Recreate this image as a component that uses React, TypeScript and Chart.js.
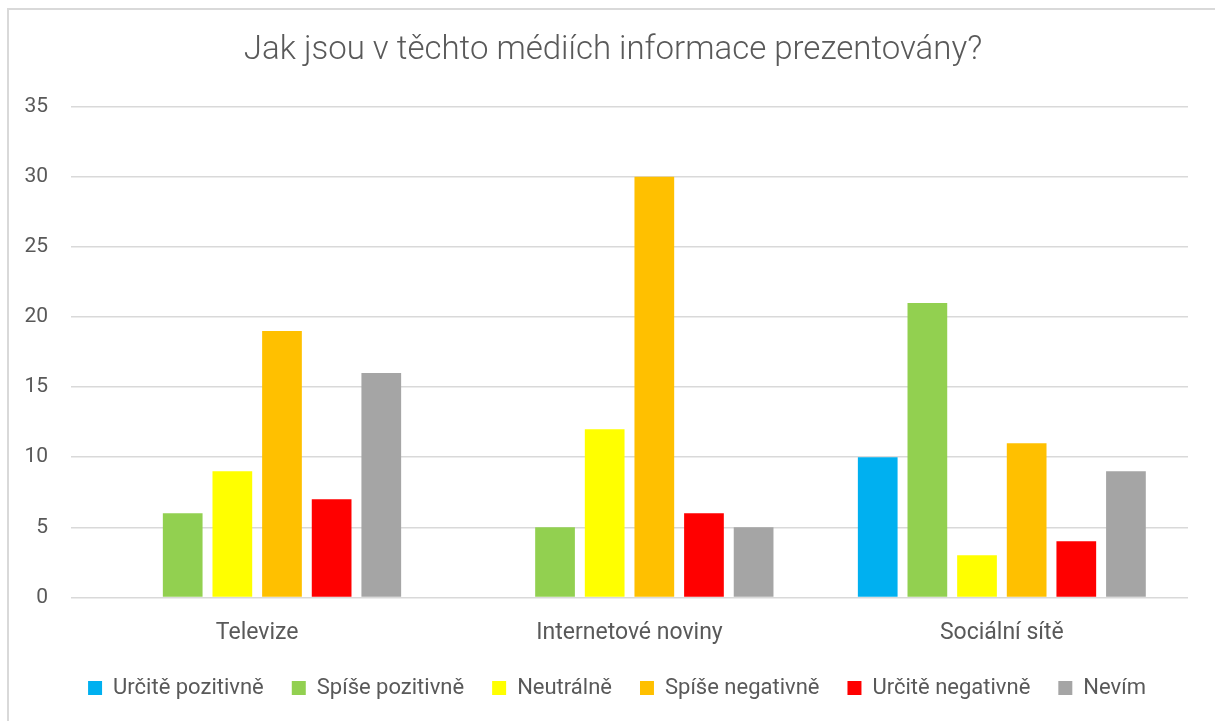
import React, { useEffect, useRef } from "react";
import { Chart, registerables } from "chart.js";

Chart.register(...registerables);

const categories = ["Televize", "Internetové noviny", "Sociální sítě"];
const seriesNames = [
  "Určitě pozitivně",
  "Spíše pozitivně",
  "Neutrálně",
  "Spíše negativně",
  "Určitě negativně",
  "Nevím",
];
const urcitePozitivne = [0, 0, 10];
const spisePozitivne = [6, 5, 21];
const neutralne = [9, 12, 3];
const spiseNegativne = [19, 30, 11];
const urciteNegativne = [7, 6, 4];
const nevim = [16, 5, 9];
const seriesColors = ["#00B0F0", "#92D050", "#FFFF00", "#FFC000", "#FF0000", "#A5A5A5"];
const titleText = "Jak jsou v těchto médiích informace prezentovány?";

const FONT = "Roboto, 'Open Sans', sans-serif";
const TEXT = "#595959";

const shiftBlocks = {
  id: "shiftBlocks",
  afterLayout(chart: any) {
    const lg = chart.legend;
    if (lg) {
      lg.left += 13;
      lg.right += 13;
    }
    const tb = chart.titleBlock;
    if (tb) {
      tb.left += 9;
      tb.right += 9;
    }
  },
};

export default function App() {
  const ref = useRef<HTMLCanvasElement | null>(null);

  useEffect(() => {
    document.documentElement.style.overflow = "hidden";
    const values = [urcitePozitivne, spisePozitivne, neutralne, spiseNegativne, urciteNegativne, nevim];
    const chart = new Chart(ref.current!, {
      type: "bar",
      data: {
        labels: categories,
        datasets: seriesNames.map((name, i) => ({
          label: name,
          data: values[i],
          backgroundColor: seriesColors[i],
          borderWidth: 0,
          categoryPercentage: 0.8,
          barPercentage: 0.8,
        })),
      },
      plugins: [shiftBlocks],
      options: {
        animation: false,
        responsive: false,
        maintainAspectRatio: false,
        layout: { padding: { top: 20, left: 20, right: 27, bottom: 12 } },
        plugins: {
          title: {
            display: true,
            text: titleText,
            color: TEXT,
            font: { family: FONT, size: 33, weight: "300" as any },
            padding: { top: 11, bottom: 36 },
          },
          legend: {
            position: "bottom",
            labels: {
              color: TEXT,
              font: { family: FONT, size: 22 },
              boxWidth: 14,
              boxHeight: 14,
              padding: 28,
            },
          },
          tooltip: { enabled: false },
        },
        scales: {
          x: {
            grid: { display: false },
            border: { display: false },
            ticks: { color: TEXT, font: { family: FONT, size: 23 }, padding: 14 },
            afterFit: (s: any) => {
              s.height = s.height - 12;
            },
          },
          y: {
            min: 0,
            max: 35,
            ticks: { stepSize: 5, color: TEXT, font: { family: FONT, size: 21 }, padding: 23 },
            grid: { color: "#D9D9D9", lineWidth: 1.5, drawTicks: false },
            border: { display: false },
            afterFit: (s: any) => {
              s.width = 51;
            },
          },
        },
      },
    });
    return () => chart.destroy();
  }, []);

  return (
    <div style={{ position: "absolute", left: 0, top: 0, width: 1215, height: 721 }}>
      <div
        style={{
          position: "absolute",
          left: 7,
          top: 8,
          width: 1210,
          height: 720,
          borderLeft: "2px solid #D9D9D9",
          borderTop: "2px solid #D9D9D9",
        }}
      />
      <canvas ref={ref} width={1215} height={721} style={{ position: "absolute", left: 0, top: 0 }} />
    </div>
  );
}
